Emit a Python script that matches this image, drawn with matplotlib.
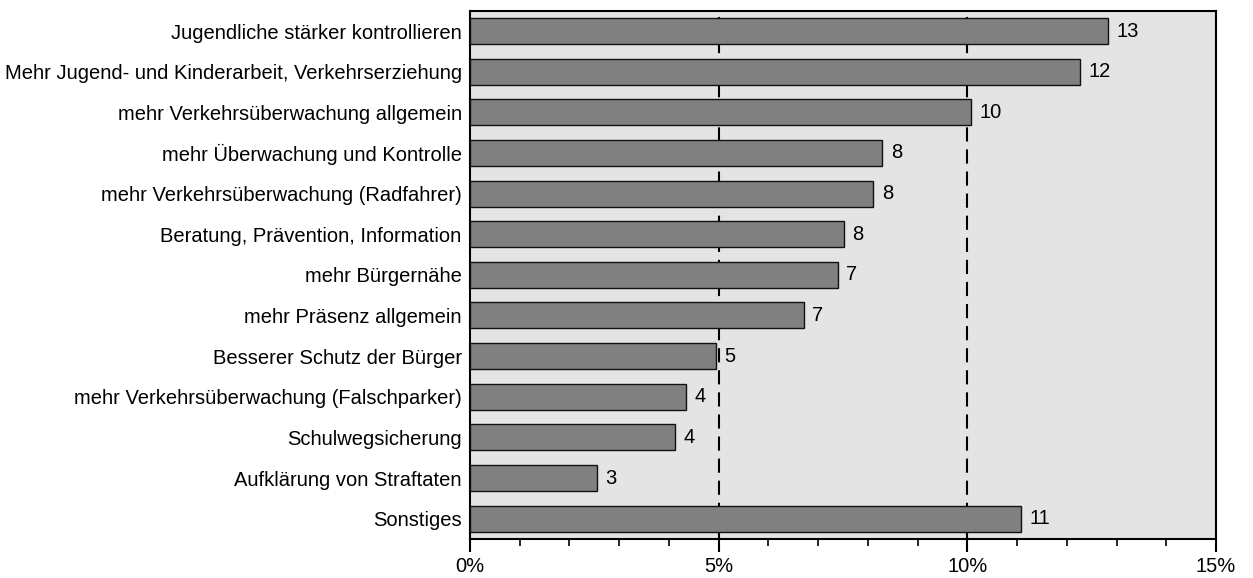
import numpy as np
import matplotlib.pyplot as plt

plt.rcParams['font.family'] = ['Liberation Sans', 'DejaVu Sans']

# Antworten (von oben nach unten) und Anteile in Prozent
kategorien = [
    'Jugendliche stärker kontrollieren',
    'Mehr Jugend- und Kinderarbeit, Verkehrserziehung',
    'mehr Verkehrsüberwachung allgemein',
    'mehr Überwachung und Kontrolle',
    'mehr Verkehrsüberwachung (Radfahrer)',
    'Beratung, Prävention, Information',
    'mehr Bürgernähe',
    'mehr Präsenz allgemein',
    'Besserer Schutz der Bürger',
    'mehr Verkehrsüberwachung (Falschparker)',
    'Schulwegsicherung',
    'Aufklärung von Straftaten',
    'Sonstiges',
]
anteile = [12.83, 12.27, 10.07, 8.29, 8.11, 7.51, 7.40, 6.71, 4.95, 4.34, 4.13, 2.55, 11.07]
xticks = [0, 5, 10, 15]
xticklabels = ['0%', '5%', '10%', '15%']

fig = plt.figure(figsize=(12.53, 5.78), dpi=100)
ax = fig.add_axes([0.3751, 0.0675, 0.5954, 0.914])
ax.set_facecolor('#e4e4e4')

y = np.arange(len(kategorien))
bars = ax.barh(y, anteile, height=0.64, color='#808080', edgecolor='#111111', linewidth=1, zorder=3)

# gestrichelte Hilfslinien bei 5 % und 10 %
for g in [5, 10]:
    ax.axvline(g, color='black', linewidth=1.5, linestyle=(0, (6.8, 3.8)), zorder=2)

for b, v in zip(bars, anteile):
    ax.text(b.get_width() + 0.17, b.get_y() + b.get_height() / 2, f'{v:.0f}',
            va='center', ha='left', fontsize=14.5, zorder=4)

ax.set_xlim(0, 15)
ax.set_ylim(len(kategorien) - 0.5, -0.5)
ax.set_yticks(y)
ax.set_yticklabels(kategorien, fontsize=14.5)
ax.tick_params(axis='y', length=0, pad=6)
ax.set_xticks(xticks)
ax.set_xticklabels(xticklabels, fontsize=14.5)
ax.set_xticks(np.arange(0, 16, 1), minor=True)
ax.tick_params(axis='x', which='major', direction='out', length=9, width=1.5, pad=4)
ax.tick_params(axis='x', which='minor', direction='out', length=5, width=1.2)
for s in ax.spines.values():
    s.set_linewidth(1.5)
    s.set_color('black')

fig.savefig('out.png', dpi=100)
